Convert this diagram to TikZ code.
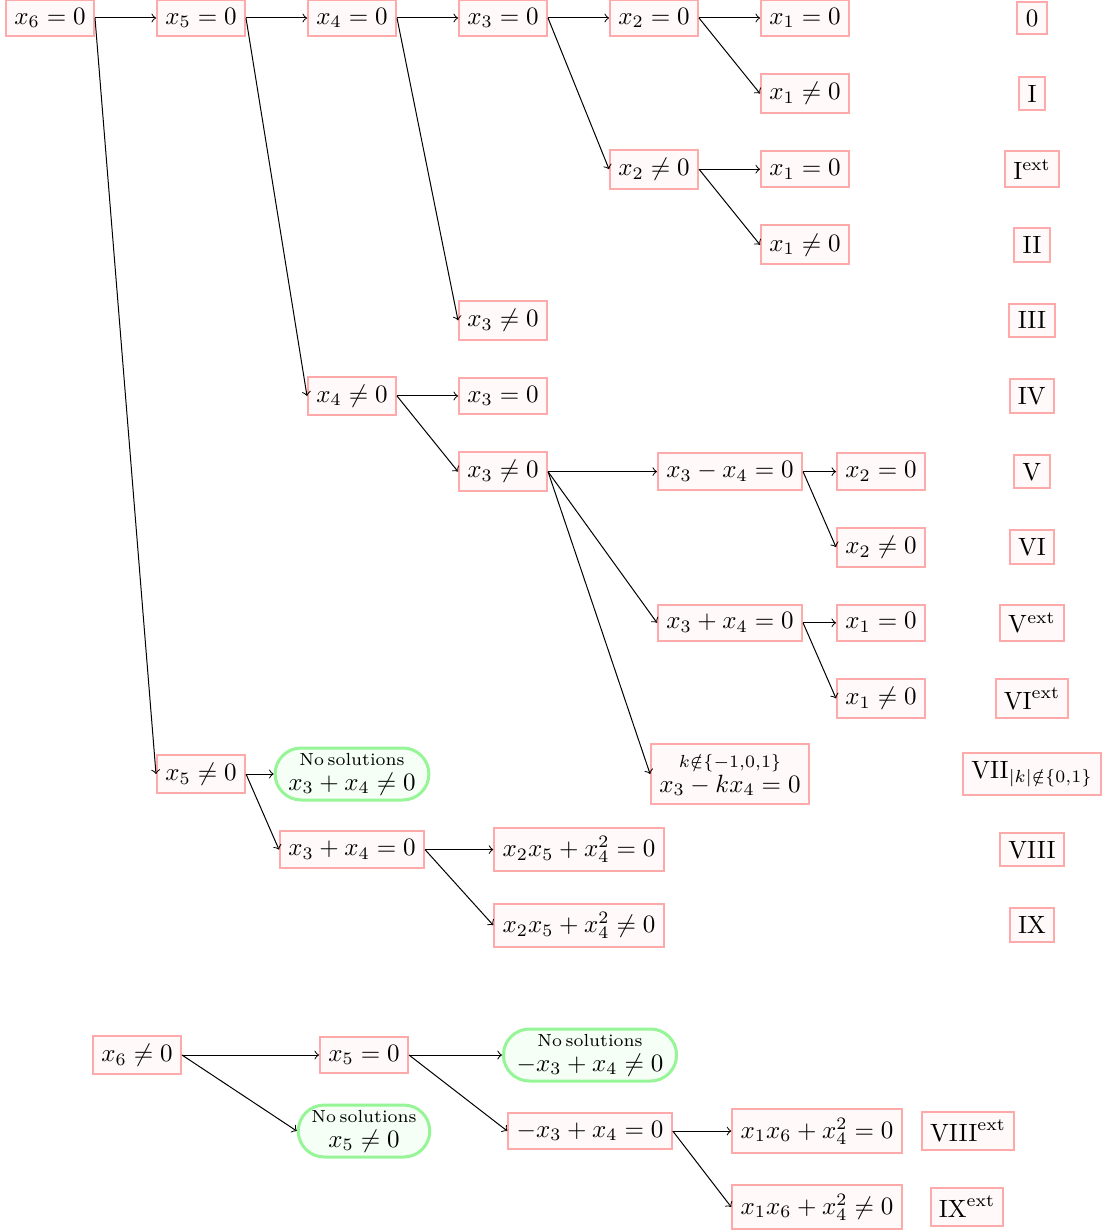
\documentclass[tikz,border=0pt]{standalone}
\usepackage{amsmath}
\usetikzlibrary{shapes.misc}
\definecolor{pinkline}{RGB}{255,170,170}
\definecolor{pinkfill}{RGB}{255,249,249}
\definecolor{greenline}{RGB}{150,245,150}
\definecolor{greenfill}{RGB}{246,255,246}
\tikzset{
  box/.style={draw=pinkline, fill=pinkfill, line width=0.8pt, inner sep=3.33pt},
  nosol/.style={draw=greenline, fill=greenfill, line width=1.2pt, rounded rectangle, align=center, inner sep=2pt, inner xsep=1pt},
  arr/.style={->, line width=0.4pt},
}
\newcommand{\nosoltext}{\scriptsize No\hspace{0.2em}solutions}
\begin{document}
\begin{tikzpicture}[x=0.4pt,y=-0.4pt]
\useasboundingbox (0,0) rectangle (1102,1230);
% rows
\def\rowA{18}\def\rowB{93.6}\def\rowC{169.2}\def\rowD{244.8}\def\rowE{320.4}\def\rowF{396}\def\rowG{471.6}
\def\rowH{547.2}\def\rowI{622.8}\def\rowJ{698.4}\def\rowK{774}\def\rowL{849.6}\def\rowM{925.2}
% main tree
\node[box] (a) at (50,\rowA) {$x_6=0$};
\node[box] (b) at (201,\rowA) {$x_5=0$};
\node[box] (c) at (352,\rowA) {$x_4=0$};
\node[box] (d) at (503,\rowA) {$x_3=0$};
\node[box] (e) at (654,\rowA) {$x_2=0$};
\node[box] (f) at (805,\rowA) {$x_1=0$};
\node[box] (g) at (805,\rowB) {$x_1\neq0$};
\node[box] (h) at (654,\rowC) {$x_2\neq0$};
\node[box] (i) at (805,\rowC) {$x_1=0$};
\node[box] (j) at (805,\rowD) {$x_1\neq0$};
\node[box] (k) at (503,\rowE) {$x_3\neq0$};
\node[box] (l) at (352,\rowF) {$x_4\neq0$};
\node[box] (m) at (503,\rowF) {$x_3=0$};
\node[box] (n) at (503,\rowG) {$x_3\neq0$};
\node[box] (o) at (730,\rowG) {$x_3-x_4=0$};
\node[box] (p) at (881,\rowG) {$x_2=0$};
\node[box] (q) at (881,\rowH) {$x_2\neq0$};
\node[box] (r) at (730,\rowI) {$x_3+x_4=0$};
\node[box] (s) at (881,\rowI) {$x_1=0$};
\node[box] (t) at (881,\rowJ) {$x_1\neq0$};
\node[box] (u) at (730,\rowK) {$\overset{k\notin\{-1,0,1\}}{x_3-kx_4=0}$};
\node[box] (v) at (201,\rowK) {$x_5\neq0$};
\node[nosol] (w) at (352,\rowK) {\nosoltext\\[-2pt] $x_3+x_4\neq0$};
\node[box] (xx) at (352,\rowL) {$x_3+x_4=0$};
\node[box] (y) at (579,\rowL) {$x_2x_5+x_4^2=0$};
\node[box] (z) at (579,\rowM) {$x_2x_5+x_4^2\neq0$};
% labels
\node[box] (L0) at (1032,\rowA) {$0$};
\node[box] (L1) at (1032,\rowB) {$\mathrm{I}$};
\node[box] (L2) at (1032,\rowC) {$\mathrm{I}^{\mathrm{ext}}$};
\node[box] (L3) at (1032,\rowD) {$\mathrm{II}$};
\node[box] (L4) at (1032,\rowE) {$\mathrm{III}$};
\node[box] (L5) at (1032,\rowF) {$\mathrm{IV}$};
\node[box] (L6) at (1032,\rowG) {$\mathrm{V}$};
\node[box] (L7) at (1032,\rowH) {$\mathrm{VI}$};
\node[box] (L8) at (1032,\rowI) {$\mathrm{V}^{\mathrm{ext}}$};
\node[box] (L9) at (1032,\rowJ) {$\mathrm{VI}^{\mathrm{ext}}$};
\node[box] (L10) at (1032,\rowK) {$\mathrm{VII}_{|k|\notin\{0,1\}}$};
\node[box] (L11) at (1032,\rowL) {$\mathrm{VIII}$};
\node[box] (L12) at (1032,\rowM) {$\mathrm{IX}$};
% bottom tree
\node[box] (A) at (137,1055) {$x_6\neq0$};
\node[box] (B) at (364,1055) {$x_5=0$};
\node[nosol] (C) at (590,1055) {\nosoltext\\[-2pt] $-x_3+x_4\neq0$};
\node[nosol] (D) at (364,1131) {\nosoltext\\[-2pt] $x_5\neq0$};
\node[box] (E) at (590,1131) {$-x_3+x_4=0$};
\node[box] (F) at (817,1131) {$x_1x_6+x_4^2=0$};
\node[box] (G) at (817,1207) {$x_1x_6+x_4^2\neq0$};
\node[box] (L13) at (968,1131) {$\mathrm{VIII}^{\mathrm{ext}}$};
\node[box] (L14) at (967,1207) {$\mathrm{IX}^{\mathrm{ext}}$};
% edges
\foreach \s/\t in {a/b,a/v,b/c,b/l,c/d,c/k,d/e,d/h,e/f,e/g,h/i,h/j,l/m,l/n,n/o,n/r,n/u,o/p,o/q,r/s,r/t,v/w,v/xx,xx/y,xx/z,A/B,A/D,B/C,B/E,E/F,E/G}
  \draw[arr] (\s.east) -- (\t.west);
\end{tikzpicture}
\end{document}
